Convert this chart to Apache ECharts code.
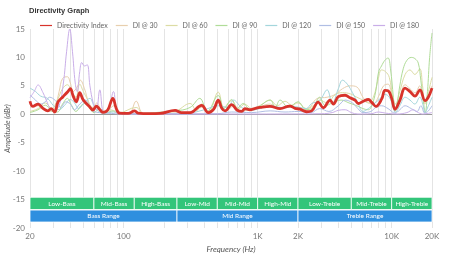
<!DOCTYPE html>
<html><head><meta charset="utf-8">
<script src="https://cdn.jsdelivr.net/npm/echarts@6/dist/echarts.min.js"></script>
<style>html,body{margin:0;padding:0;background:#fff}#c{width:450px;height:260px}</style>
</head><body><div id="c"></div>
<script>
// ---- data ----
const diIndex = [[20,2.3],[21,1.4],[23,1.8],[25,1.05],[27.2,0.6],[28.8,1.0],[30.6,0.4],[32.4,2.2],[35.3,3.1],[38.4,4.0],[40,4.5],[42,3.2],[44.3,2.2],[47,3.8],[49.7,2.6],[52.6,1.9],[55.8,1.3],[59,0.75],[62.5,1.45],[66,0.9],[70,0.35],[76,0.75],[83,2.8],[88,1.05],[93,0.2],[108,0.15],[121,0.6],[128,0.2],[157,0.1],[187,0.15],[242,0.7],[270,0.3],[313,0.3],[382,1.55],[428,0.3],[470,0.9],[508,2.5],[540,1.05],[570,0.6],[640,1.7],[700,0.75],[760,0.5],[804,1.0],[877,0.8],[950,1.0],[1040,1.2],[1236,1.4],[1470,1.0],[1740,1.45],[1900,1.05],[2070,0.9],[2320,0.45],[2530,0.6],[2830,2.15],[3090,1.15],[3470,2.5],[3670,1.8],[4000,3.1],[4490,3.35],[4890,2.9],[5320,2.5],[5640,1.9],[6140,2.3],[6700,2.6],[7100,2.1],[7640,1.4],[8430,2.7],[8910,4.2],[9440,4.1],[10000,2.8],[10590,0.9],[11540,2.5],[12580,4.6],[13700,4.0],[14930,3.2],[16260,4.3],[17740,2.4],[18760,3.0],[20000,4.6]];
const di30 = [[20,1.2],[23,1.5],[26,0.8],[29,0.5],[31,1.5],[33,4.0],[35,6.3],[38,6.6],[40,5.5],[42,4.0],[45,4.8],[47.5,6.0],[51,4.5],[55,2.0],[59,1.2],[63,2.0],[68,0.8],[75,0.5],[84,1.5],[95,0.3],[110,0.2],[124,2.3],[140,0.2],[200,0.1],[260,0.3],[320,0.4],[380,1.2],[440,0.5],[508,2.0],[580,0.6],[660,1.4],[760,0.6],[880,0.9],[1000,1.2],[1240,1.8],[1450,1.0],[1740,1.6],[2000,1.0],[2300,0.8],[2800,2.8],[3300,3.0],[3800,3.5],[4300,4.5],[4900,5.0],[5500,4.8],[6100,3.0],[6700,2.0],[7300,1.8],[8000,3.2],[8700,5.0],[9400,5.3],[10000,3.5],[10600,1.2],[11500,3.0],[12600,5.2],[13700,4.5],[14900,3.8],[16200,5.0],[17700,1.8],[18800,3.0],[20000,5.0]];
const di60 = [[20,0.5],[23,1.0],[26,2.0],[29,1.0],[32,2.5],[35,4.5],[38,5.2],[41,4.0],[44,3.0],[47,5.3],[50,4.0],[54,2.5],[58,1.0],[63,1.5],[70,0.3],[80,0.8],[90,0.2],[124,1.2],[140,0.1],[240,0.5],[313,1.9],[350,0.6],[382,1.8],[430,0.4],[508,3.9],[560,1.2],[640,2.4],[720,1.0],[800,1.8],[900,1.0],[1050,1.6],[1240,2.5],[1400,1.5],[1600,2.3],[1800,1.6],[2000,2.0],[2300,1.0],[2600,1.5],[2900,2.5],[3300,2.0],[3800,3.5],[4300,3.8],[4900,3.6],[5500,3.0],[6100,2.5],[6700,2.0],[7300,3.0],[7900,6.0],[8400,7.8],[9000,7.5],[9600,6.5],[10200,3.0],[10700,1.8],[11500,4.0],[12600,7.0],[13700,7.8],[14900,7.0],[16200,8.0],[17000,5.0],[17700,2.0],[18800,4.0],[20000,6.5]];
const di90 = [[20,0.3],[23,0.8],[26,1.6],[29,0.6],[32,0.4],[35,1.8],[38,2.8],[41,1.5],[44,0.5],[48,1.5],[52,2.0],[56,1.0],[60,0.3],[66,1.0],[72,0.2],[84,0.6],[100,0.1],[240,0.6],[313,1.2],[370,2.8],[420,0.5],[508,3.3],[560,1.0],[640,2.6],[700,1.0],[780,1.9],[880,0.8],[1000,1.2],[1240,2.5],[1350,1.2],[1470,2.5],[1700,1.2],[2000,2.2],[2300,0.8],[2600,1.2],[2900,3.0],[3200,1.5],[3600,2.0],[4200,2.5],[4800,2.0],[5500,1.5],[6100,1.0],[6700,0.8],[7100,1.5],[7600,4.0],[8000,7.5],[8400,8.5],[8900,9.5],[9400,9.9],[9800,8.0],[10300,3.0],[10600,0.5],[11000,2.0],[11500,5.0],[12200,8.0],[13000,9.5],[14000,10.0],[14900,9.8],[15800,9.0],[16500,6.0],[17300,2.0],[17800,0.3],[18500,4.0],[19200,10.0],[20000,14.3]];
const di120 = [[20,4.6],[22,4.0],[24,3.2],[27,2.8],[30,1.5],[33,0.8],[36,1.5],[40,2.6],[43,2.0],[46,1.0],[50,1.8],[56,2.8],[60,1.5],[65,0.5],[72,0.2],[84,0.4],[100,0.1],[300,0.2],[400,0.8],[508,1.5],[600,1.2],[660,2.5],[760,1.2],[880,0.7],[1000,0.9],[1240,1.5],[1500,1.2],[1800,1.4],[2070,1.2],[2300,1.0],[2530,1.9],[2900,2.4],[3300,4.3],[3600,1.9],[4000,4.5],[4300,6.0],[4700,5.2],[5100,3.8],[5600,2.0],[6100,0.5],[6700,1.0],[7300,1.8],[8000,2.5],[8900,3.5],[9600,3.0],[10300,1.2],[10600,0.3],[11500,1.5],[12600,3.0],[13700,2.5],[14900,1.8],[16200,3.0],[17200,1.5],[17700,0.3],[18800,1.5],[20000,3.0]];
const di150 = [[20,3.4],[22,2.5],[24,1.8],[26,2.2],[28,3.0],[31,2.4],[34,1.2],[37,2.2],[40,1.8],[43,0.8],[47,1.8],[52,2.5],[56,1.2],[60,0.5],[66,0.3],[75,0.2],[100,0.05],[500,0.1],[640,0.4],[900,0.3],[1240,0.6],[1600,0.4],[2000,0.5],[2500,0.3],[2900,1.0],[3400,0.5],[4000,1.5],[4500,2.5],[5100,2.0],[5600,1.0],[6100,0.3],[7000,0.5],[7600,1.2],[8400,1.5],[9400,1.0],[10600,0.2],[11500,0.8],[12600,1.5],[14000,1.0],[15500,0.5],[16500,1.5],[17700,0.2],[18800,0.6],[20000,1.5]];
const di180 = [[20,2.9],[21.5,4.0],[23,5.15],[25,3.8],[27,2.0],[28.3,1.05],[30.5,0.8],[33,1.5],[35.5,5.5],[37.5,11],[39.6,15],[41.5,11],[43.5,5.5],[45,4.0],[47,7.5],[48.7,9.1],[51,8.5],[53.5,8.7],[56,5.0],[59.4,1.9],[62.5,0.75],[66.4,4.3],[71,0.45],[77,0.8],[84,4.0],[90,0.2],[100,0.05],[1000,0.05],[3000,0.1],[3600,0.3],[4000,0.7],[4500,0.8],[5000,0.3],[5600,0.05],[7000,0.1],[8000,0.4],[9000,0.2],[11000,0.05],[13000,0.3],[14500,0.8],[15500,0.4],[17000,0.05],[20000,0.3]];

const seriesNames = ['Directivity Index','DI @ 30','DI @ 60','DI @ 90','DI @ 120','DI @ 150','DI @ 180'];
const gridFreqs = [20,30,40,50,60,70,80,90,100,200,300,400,500,600,700,800,900,1000,2000,3000,4000,5000,6000,7000,8000,9000,10000,20000];
const xTickVals = [20,100,1000,2000,10000,20000];
const xTickLabels = ['20','100','1K','2K','10K','20K'];
const subBands = [['Low-Bass',20,60],['Mid-Bass',60,120],['High-Bass',120,250],['Low-Mid',250,500],['Mid-Mid',500,1000],['High-Mid',1000,2000],['Low-Treble',2000,5000],['Mid-Treble',5000,10000],['High-Treble',10000,20000]];
const mainBands = [['Bass Range',20,250],['Mid Range',250,2000],['Treble Range',2000,20000]];

// ---- styles ----
const colors = ['#d8332b','#e8cfae','#dcdca4','#b0dc98','#a4d6dc','#b0bee4','#c9aee8'];
const FONT = 'Lato';
const allData = [diIndex, di30, di60, di90, di120, di150, di180];

const chart = echarts.init(document.getElementById('c'), null, {renderer:'canvas'});

const dataSeries = allData.map((d,i)=>({
  name: seriesNames[i], type:'line', data:d, smooth:0.4, symbol:'none',
  z: i===0 ? 4 : 3,
  lineStyle:{color:colors[i], width: i===0 ? 2.8 : 1},
  itemStyle:{color:colors[i]}
}));

const gridLineSeries = {
  name:'_grid', type:'line', data:[], silent:true, z:1,
  markLine:{
    silent:true, symbol:'none', z:1, animation:false,
    lineStyle:{color:'#e4e4e4', width:1, type:'solid'},
    label:{show:false},
    data: gridFreqs.map(f=>({xAxis:f}))
      .concat(xTickVals.map((f,k)=>({xAxis:f, label:{show:true, position:'start', formatter:xTickLabels[k], color:'#777', fontSize:8, fontFamily:FONT, distance:4}})))
      .concat([{yAxis:0, lineStyle:{color:'#9a9a9a', width:1, type:'solid'}}])
  }
};

const bandSeries = {
  name:'_bands', type:'line', data:[], silent:true, z:5,
  markArea:{
    silent:true, z:5, animation:false,
    label:{show:true, position:'inside', color:'#fff', fontSize:6.5, fontFamily:FONT},
    data: subBands.map(b=>[{name:b[0], xAxis:b[1], yAxis:-14.6, itemStyle:{color:'#33c57a', borderColor:'#fff', borderWidth:0.8}}, {xAxis:b[2], yAxis:-16.75}])
      .concat(mainBands.map(b=>[{name:b[0], xAxis:b[1], yAxis:-16.85, itemStyle:{color:'#2f8fdf', borderColor:'#fff', borderWidth:0.8}}, {xAxis:b[2], yAxis:-18.95}]))
  }
};

chart.setOption({
  animation:false,
  backgroundColor:'#fff',
  title:{text:'Directivity Graph', left:24, top:2, textStyle:{fontSize:7.5, fontWeight:'bold', color:'#333', fontFamily:'Liberation Sans'}},
  legend:{
    top:17, left:35, itemWidth:12, itemHeight:8, itemGap:8,
    textStyle:{fontSize:7, color:'#666', fontFamily:FONT},
    data: seriesNames.map((n,i)=>({name:n, icon:'path://M0,0 L10,0 L10,1 L0,1 Z', itemStyle:{color:colors[i]}}))
  },
  grid:{left:30, right:18, top:29, bottom:32, containLabel:false, outerBoundsMode:'none'},
  xAxis:{
    type:'log', logBase:10, min:20, max:20000,
    name:'Frequency (Hz)', nameLocation:'middle', nameGap:17, nameMoveOverlap:false,
    nameTextStyle:{fontSize:8, fontStyle:'italic', color:'#555', fontFamily:FONT},
    axisLine:{show:false}, axisTick:{show:false}, axisLabel:{show:false}, splitLine:{show:false}
  },
  yAxis:{
    type:'value', min:-20, max:15, interval:5,
    name:'Amplitude (dBr)', nameLocation:'middle', nameGap:18, nameRotate:90, nameMoveOverlap:false,
    nameTextStyle:{fontSize:7.5, fontStyle:'italic', color:'#555', fontFamily:FONT},
    axisLine:{show:false}, axisTick:{show:false},
    axisLabel:{fontSize:8, color:'#777', margin:5, fontFamily:FONT},
    splitLine:{show:false}
  },
  series:[gridLineSeries].concat(dataSeries).concat([bandSeries])
});
</script>
</body></html>
